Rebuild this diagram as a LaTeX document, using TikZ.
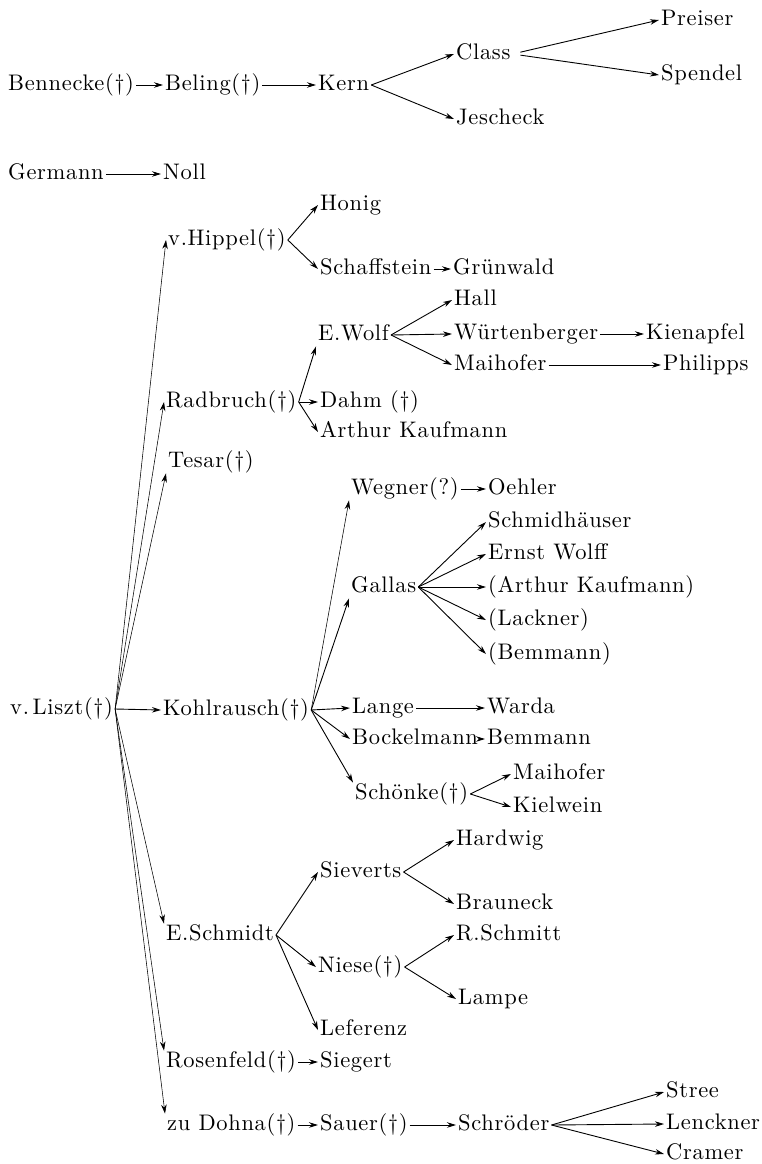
\documentclass[tikz,border=0pt]{standalone}
\usepackage{fontspec}
\setmainfont{lmroman10-regular.otf}[LetterSpace=3]
\usetikzlibrary{arrows.meta}
\begin{document}
\begin{tikzpicture}[x=1pt,y=-1pt,
  scholar/.style={anchor=west,inner xsep=2pt,inner ysep=0pt,text height=17pt,text depth=5.5pt,font=\fontsize{22.5}{27}\selectfont},
  lineage/.style={-{Stealth[length=9pt,width=5.5pt]},line width=0.9pt},
  thinline/.style={lineage,line width=0.55pt}]
\useasboundingbox (0,0) rectangle (762,1164);
% top lines
\node[scholar] (benn) at (6,85) {Bennecke(\textdagger)};
\node[scholar] (beli) at (163,85) {Beling(\textdagger)};
\node[scholar] (kern) at (316,85) {Kern};
\node[scholar] (class) at (454,54) {Class};
\node[scholar] (jesch) at (454,119) {Jescheck};
\node[scholar] (preis) at (659,20) {Preiser};
\node[scholar] (spend) at (659,75) {Spendel};
\node[scholar] (germ) at (6,174) {Germann};
\node[scholar] (noll) at (161,174) {Noll};
% v. Liszt and his pupils
\node[scholar] (liszt) at (8,709) {v.\,Liszt(\textdagger)};
\node[scholar] (hipp) at (166,240) {v.Hippel(\textdagger)};
\node[scholar] (radb) at (164,402) {Radbruch(\textdagger)};
\node[scholar] (tesar) at (166,462) {Tesar(\textdagger)};
\node[scholar] (kohl) at (161,710) {Kohlrausch(\textdagger)};
\node[scholar] (eschm) at (164,935) {E.Schmidt};
\node[scholar] (rosen) at (164,1062) {Rosenfeld(\textdagger)};
\node[scholar] (dohna) at (165,1125) {zu Dohna(\textdagger)};
% v. Hippel
\node[scholar] (honig) at (318,205) {Honig};
\node[scholar] (schaff) at (318,269) {Schaffstein};
\node[scholar] (gruen) at (451,269) {Grünwald};
% Radbruch
\node[scholar] (ewolf) at (316,335) {E.Wolf};
\node[scholar] (hall) at (452,300) {Hall};
\node[scholar] (wuert) at (452,334) {Würtenberger};
\node[scholar] (kienap) at (644,334) {Kienapfel};
\node[scholar] (maih) at (452,365) {Maihofer};
\node[scholar] (phil) at (661,365) {Philipps};
\node[scholar] (dahm) at (318,402) {Dahm (\textdagger)};
\node[scholar] (akauf) at (318,432) {Arthur Kaufmann};
% Kohlrausch
\node[scholar] (wegner) at (349,489) {Wegner(?)};
\node[scholar] (oehler) at (486,489) {Oehler};
\node[scholar] (gallas) at (349,587) {Gallas};
\node[scholar] (schmh) at (486,522) {Schmidhäuser};
\node[scholar] (ewolff) at (486,554) {Ernst Wolff};
\node[scholar] (akauf2) at (486,587) {(Arthur Kaufmann)};
\node[scholar] (lackner) at (486,620) {(Lackner)};
\node[scholar] (bemm) at (486,654) {(Bemmann)};
\node[scholar] (lange) at (350,708) {Lange};
\node[scholar] (warda) at (485,708) {Warda};
\node[scholar] (bock) at (350,739) {Bockelmann};
\node[scholar] (bemm2) at (485,739) {Bemmann};
\node[scholar] (schoen) at (353,794) {Schönke(\textdagger)};
\node[scholar] (maih2) at (511,774) {Maihofer};
\node[scholar] (kielw) at (511,807) {Kielwein};
% E. Schmidt
\node[scholar] (siev) at (318,872) {Sieverts};
\node[scholar] (hardw) at (454,840) {Hardwig};
\node[scholar] (braun) at (454,904) {Brauneck};
\node[scholar] (niese) at (316,967) {Niese(\textdagger)};
\node[scholar] (rschm) at (454,935) {R.Schmitt};
\node[scholar] (lampe) at (456,999) {Lampe};
\node[scholar] (lef) at (318,1030) {Leferenz};
% Rosenfeld, zu Dohna
\node[scholar] (sieg) at (318,1062) {Siegert};
\node[scholar] (sauer) at (318,1125) {Sauer(\textdagger)};
\node[scholar] (schroe) at (456,1125) {Schröder};
\node[scholar] (stree) at (664,1092) {Stree};
\node[scholar] (lenck) at (664,1124) {Lenckner};
\node[scholar] (cramer) at (664,1154) {Cramer};
% arrows
\draw[lineage] (benn.east) -- (beli.west);
\draw[lineage] (beli.east) -- (kern.west);
\draw[lineage] (kern.east) -- (class.west);
\draw[lineage] (kern.east) -- (jesch.west);
\draw[lineage,shorten <=8pt] (class.east) -- (preis.west);
\draw[lineage,shorten <=8pt] (class.east) -- (spend.west);
\draw[lineage] (germ.east) -- (noll.west);
\draw[thinline] (liszt.east) -- (hipp.west);
\draw[thinline] (liszt.east) -- (radb.west);
\draw[thinline] (liszt.east) -- (tesar.south west);
\draw[lineage] (liszt.east) -- (kohl.west);
\draw[thinline] (liszt.east) -- (eschm.north west);
\draw[thinline] (liszt.east) -- (rosen.north west);
\draw[thinline] (liszt.east) -- (dohna.north west);
\draw[lineage] (hipp.east) -- (honig.west);
\draw[lineage] (hipp.east) -- (schaff.west);
\draw[lineage] (schaff.east) -- (gruen.west);
\draw[lineage] (radb.east) -- (ewolf.south west);
\draw[lineage] (radb.east) -- (dahm.west);
\draw[lineage] (radb.east) -- (akauf.west);
\draw[lineage] (ewolf.east) -- (hall.west);
\draw[lineage] (ewolf.east) -- (wuert.west);
\draw[lineage] (ewolf.east) -- (maih.west);
\draw[lineage] (wuert.east) -- (kienap.west);
\draw[lineage] (maih.east) -- (phil.west);
\draw[thinline] (kohl.east) -- (wegner.south west);
\draw[lineage] (kohl.east) -- (gallas.south west);
\draw[lineage] (kohl.east) -- (lange.west);
\draw[lineage] (kohl.east) -- (bock.west);
\draw[lineage] (kohl.east) -- (schoen.north west);
\draw[lineage] (wegner.east) -- (oehler.west);
\draw[lineage] (gallas.east) -- (schmh.west);
\draw[lineage] (gallas.east) -- (ewolff.west);
\draw[lineage] (gallas.east) -- (akauf2.west);
\draw[lineage] (gallas.east) -- (lackner.west);
\draw[lineage] (gallas.east) -- (bemm.west);
\draw[lineage] (lange.east) -- (warda.west);
\draw[lineage] (bock.east) -- (bemm2.west);
\draw[lineage] (schoen.east) -- (maih2.west);
\draw[lineage] (schoen.east) -- (kielw.west);
\draw[lineage] (eschm.east) -- (siev.west);
\draw[lineage] (eschm.east) -- (niese.west);
\draw[lineage] (eschm.east) -- (lef.west);
\draw[lineage] (siev.east) -- (hardw.west);
\draw[lineage] (siev.east) -- (braun.west);
\draw[lineage] (niese.east) -- (rschm.west);
\draw[lineage] (niese.east) -- (lampe.west);
\draw[lineage] (rosen.east) -- (sieg.west);
\draw[lineage] (dohna.east) -- (sauer.west);
\draw[lineage] (sauer.east) -- (schroe.west);
\draw[lineage] (schroe.east) -- (stree.west);
\draw[lineage] (schroe.east) -- (lenck.west);
\draw[lineage] (schroe.east) -- (cramer.west);
\end{tikzpicture}
\end{document}
